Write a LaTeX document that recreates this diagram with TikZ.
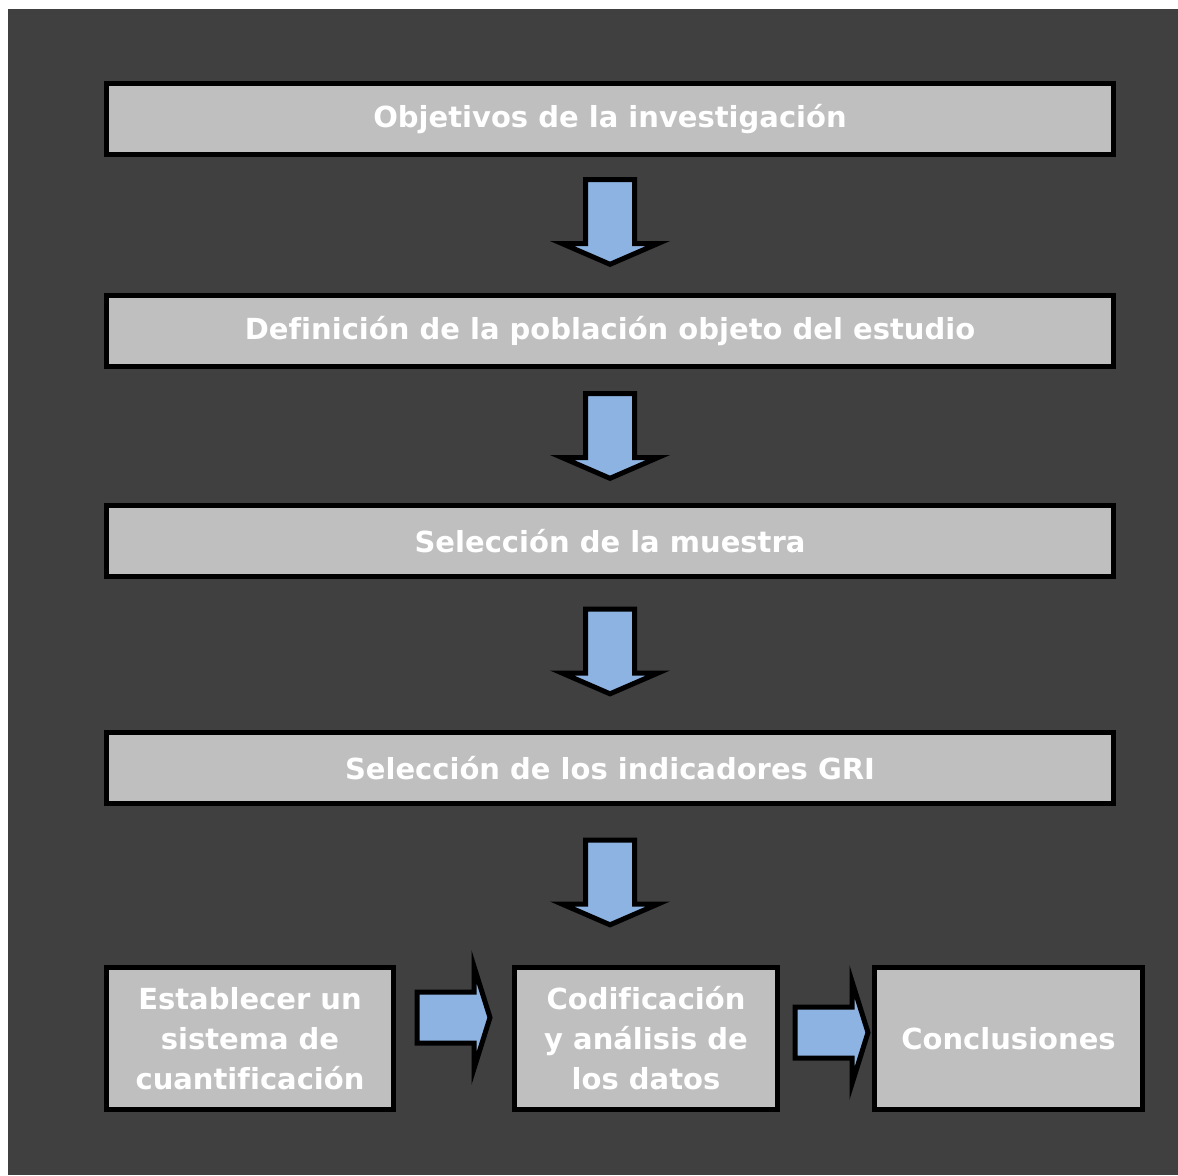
\documentclass[tikz,border=0pt]{standalone}
\usepackage{fontspec}
\setmainfont{DejaVu Sans}[Ligatures={NoCommon}]
\usetikzlibrary{positioning, calc}
\definecolor{bgDark}{HTML}{404040}
\definecolor{boxGray}{HTML}{BFBFBF}
\definecolor{arrowBlue}{HTML}{8DB3E2}
\tikzstyle{stepbox} =[draw=black, fill=boxGray, text=white, line width=2.5pt, outer sep=1.25pt, inner sep=0pt, align=center, font=\fontsize{14.5}{20}\selectfont\bfseries]
\tikzstyle{blockarrow} =[draw=black, fill=arrowBlue, line width=2.5pt, line join=miter]

\begin{document}
\begin{tikzpicture}[x=0.5pt, y=-0.5pt]
\useasboundingbox (0,0) rectangle (1178,1175);
\fill[bgDark] (8,9) rectangle (1178,1175);

\node (obj) [stepbox, minimum width=503.5pt, minimum height=35.5pt] at (610,119) {Objetivos de la investigación};
\node (pob) [stepbox, minimum width=503.5pt, minimum height=35.5pt, below=68pt of obj] {Definición de la población objeto del estudio};
\node (mue) [stepbox, minimum width=503.5pt, minimum height=35.5pt, below=67pt of pob] {Selección de la muestra};
\node (ind) [stepbox, minimum width=503.5pt, minimum height=35.5pt, below=75.5pt of mue] {Selección de los indicadores GRI};

\node (est) [stepbox, minimum width=143.5pt, minimum height=71pt, below right=79.5pt and 0pt of ind.south west] {Establecer un\\sistema de\\cuantificación};
\node (cod) [stepbox, minimum width=131.5pt, minimum height=71pt, right=58pt of est] {Codificación\\y análisis de\\los datos};
\node (con) [stepbox, minimum width=134pt, minimum height=71pt, right=46pt of cod] {Conclusiones};

\coordinate (d1) at ($(obj.south)!0.5!(pob.north)+(0,-3)$);
\coordinate (d2) at ($(pob.south)!0.5!(mue.north)$);
\coordinate (d3) at ($(mue.south)!0.5!(ind.north)+(0,-3)$);
\coordinate (d4) at ($(ind.south)!0.5!(ind.south |- cod.north)+(0,-3)$);
\coordinate (r1) at ($(est.east)!0.5!(cod.west)+(0,-21)$);
\coordinate (r2) at ($(cod.east)!0.5!(con.west)+(6,-6)$);

\foreach \c in {d1,d2,d3,d4}
	\draw[blockarrow, shift={(\c)}] (-24.5,-42.5) -- (24.5,-42.5) -- (24.5,21.5) -- (48,21.5) -- (0,42.3) -- (-48,21.5) -- (-24.5,21.5) -- cycle;

\foreach \c in {r1,r2}
	\draw[blockarrow, shift={(\c)}] (-37,-25.5) -- (20,-25.5) -- (20,-51) -- (36,0) -- (20,51) -- (20,25.5) -- (-37,25.5) -- cycle;
\end{tikzpicture}
\end{document}
